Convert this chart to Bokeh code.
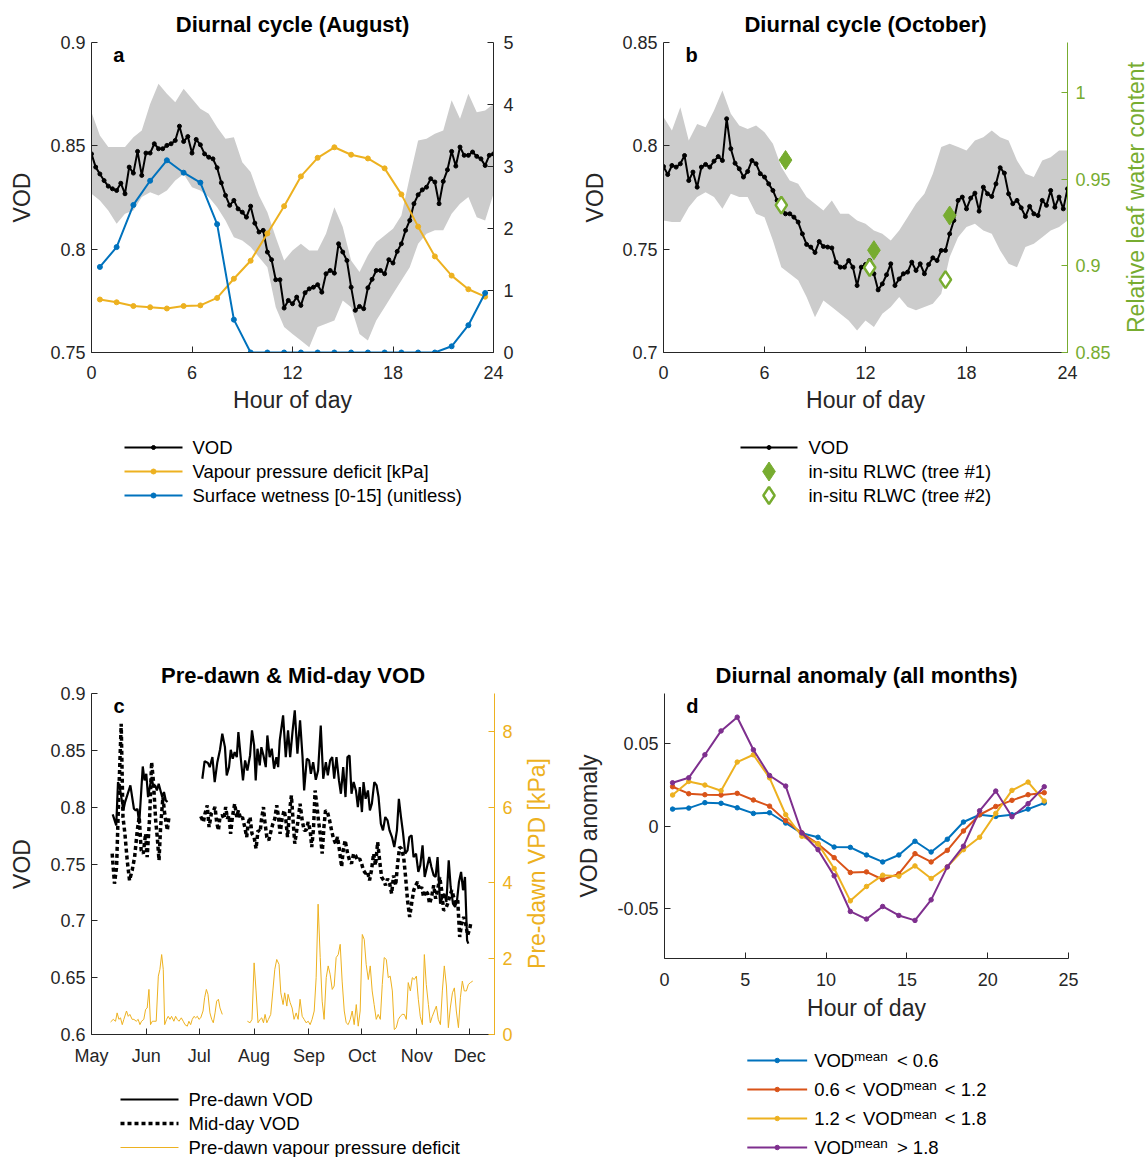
import math
from bokeh.plotting import figure
from bokeh.models import (Range1d, LinearAxis, FixedTicker, Label, CustomJSTickFormatter)
from bokeh.core.properties import value
from bokeh.layouts import row, column
from bokeh.embed import file_html
from bokeh.resources import INLINE

# ------------------------------------------------------------------ data
# Panel a (August diurnal cycle)
hours_q = [i * 0.25 for i in range(97)]
hours_half = [i * 0.5 for i in range(49)]
hours_mid = [i + 0.5 for i in range(24)]

vod_aug = [0.8461, 0.8397, 0.8364, 0.8332, 0.8305, 0.8292, 0.8284, 0.8319, 0.8268, 0.8397,
           0.8368, 0.8473, 0.8357, 0.8465, 0.8465, 0.8510, 0.8486, 0.8486, 0.8502, 0.8510,
           0.8526, 0.8595, 0.8521, 0.8545, 0.8465, 0.8531, 0.8505, 0.8461, 0.8445, 0.8437,
           0.8394, 0.8321, 0.8260, 0.8212, 0.8236, 0.8195, 0.8179, 0.8155, 0.8208, 0.8126,
           0.8083, 0.8091, 0.7986, 0.7949, 0.7852, 0.7852, 0.7715, 0.7752, 0.7736, 0.7768,
           0.7728, 0.7789, 0.7808, 0.7816, 0.7828, 0.7792, 0.7881, 0.7897, 0.7884, 0.8026,
           0.7986, 0.7945, 0.7816, 0.7704, 0.7723, 0.7712, 0.7813, 0.7854, 0.7897, 0.7897,
           0.7881, 0.7949, 0.7933, 0.7989, 0.8026, 0.8091, 0.8139, 0.8220, 0.8263, 0.8287,
           0.8300, 0.8341, 0.8325, 0.8220, 0.8328, 0.8384, 0.8473, 0.8402, 0.8494, 0.8454,
           0.8454, 0.8470, 0.8449, 0.8437, 0.8405, 0.8454, 0.8461]
vod_aug_hi = [0.8663, 0.8550, 0.8494, 0.8494, 0.8494, 0.8542, 0.8574, 0.8703, 0.8800, 0.8752,
              0.8711, 0.8776, 0.8728, 0.8679, 0.8655, 0.8590, 0.8534, 0.8542, 0.8421, 0.8373,
              0.8260, 0.8179, 0.8058, 0.7945, 0.7994, 0.8026, 0.7994, 0.7994, 0.8074, 0.8203,
              0.8107, 0.7945, 0.7889, 0.7970, 0.8034, 0.8066, 0.8099, 0.8163, 0.8349, 0.8526,
              0.8534, 0.8558, 0.8574, 0.8720, 0.8631, 0.8752, 0.8663, 0.8671, 0.8703]
vod_aug_lo = [0.8268, 0.8236, 0.8187, 0.8123, 0.8171, 0.8187, 0.8252, 0.8276, 0.8260, 0.8284,
              0.8332, 0.8364, 0.8300, 0.8284, 0.8252, 0.8203, 0.8139, 0.8058, 0.8042, 0.8010,
              0.7961, 0.7913, 0.7719, 0.7623, 0.7590, 0.7558, 0.7526, 0.7623, 0.7639, 0.7655,
              0.7752, 0.7719, 0.7590, 0.7558, 0.7655, 0.7719, 0.7784, 0.7848, 0.7913, 0.8026,
              0.8074, 0.8091, 0.8091, 0.8171, 0.8220, 0.8252, 0.8155, 0.8139, 0.8268]
vpd_aug = [0.855, 0.81, 0.75, 0.73, 0.71, 0.75, 0.76, 0.88, 1.19, 1.48, 1.92, 2.36,
           2.84, 3.14, 3.31, 3.19, 3.13, 2.97, 2.55, 2.03, 1.55, 1.24, 1.02, 0.90]
wet_aug = [1.38, 1.70, 2.38, 2.77, 3.10, 2.90, 2.74, 2.07, 0.53, 0.0, 0.0, 0.0,
           0.0, 0.0, 0.0, 0.0, 0.0, 0.0, 0.0, 0.0, 0.0, 0.10, 0.44, 0.96]

# Panel b (October diurnal cycle)
vod_oct = [0.7900, 0.7861, 0.7905, 0.7897, 0.7913, 0.7953, 0.7832, 0.7873, 0.7800, 0.7897,
           0.7910, 0.7897, 0.7926, 0.7948, 0.7929, 0.8131, 0.7986, 0.7916, 0.7889, 0.7849,
           0.7876, 0.7929, 0.7913, 0.7865, 0.7849, 0.7816, 0.7784, 0.7736, 0.7703, 0.7671,
           0.7671, 0.7655, 0.7631, 0.7574, 0.7523, 0.7510, 0.7484, 0.7537, 0.7513, 0.7510,
           0.7506, 0.7437, 0.7413, 0.7413, 0.7445, 0.7413, 0.7324, 0.7413, 0.7426, 0.7445,
           0.7381, 0.7303, 0.7332, 0.7376, 0.7429, 0.7324, 0.7356, 0.7381, 0.7389, 0.7437,
           0.7397, 0.7429, 0.7381, 0.7426, 0.7458, 0.7445, 0.7494, 0.7494, 0.7574, 0.7639,
           0.7736, 0.7752, 0.7695, 0.7747, 0.7771, 0.7684, 0.7800, 0.7768, 0.7755, 0.7816,
           0.7894, 0.7868, 0.7768, 0.7720, 0.7736, 0.7700, 0.7658, 0.7707, 0.7671, 0.7663,
           0.7736, 0.7712, 0.7784, 0.7703, 0.7752, 0.7695, 0.7792]
vod_oct_hi = [0.8139, 0.8074, 0.8187, 0.8026, 0.8106, 0.8090, 0.8171, 0.8268, 0.8155, 0.8098,
              0.8082, 0.8098, 0.8066, 0.8010, 0.7897, 0.7832, 0.7816, 0.7752, 0.7720, 0.7687,
              0.7736, 0.7671, 0.7671, 0.7639, 0.7623, 0.7590, 0.7574, 0.7542, 0.7590, 0.7655,
              0.7720, 0.7768, 0.7865, 0.7994, 0.8010, 0.7994, 0.7978, 0.8026, 0.8042, 0.8074,
              0.8042, 0.8026, 0.7929, 0.7865, 0.7849, 0.7929, 0.7945, 0.7978, 0.7978]
vod_oct_lo = [0.7639, 0.7631, 0.7631, 0.7703, 0.7752, 0.7776, 0.7752, 0.7695, 0.7768, 0.7752,
              0.7752, 0.7671, 0.7655, 0.7542, 0.7413, 0.7381, 0.7349, 0.7268, 0.7171, 0.7252,
              0.7220, 0.7187, 0.7155, 0.7107, 0.7155, 0.7123, 0.7187, 0.7220, 0.7268, 0.7220,
              0.7204, 0.7220, 0.7236, 0.7284, 0.7462, 0.7558, 0.7607, 0.7623, 0.7590, 0.7574,
              0.7494, 0.7429, 0.7413, 0.7510, 0.7526, 0.7558, 0.7590, 0.7607, 0.7639]
rlwc1_hours = [7.25, 12.5, 17.0]
rlwc1_vals = [0.961, 0.909, 0.929]
rlwc2_hours = [7.0, 12.25, 16.75]
rlwc2_vals = [0.935, 0.899, 0.892]

# Panel c (days since 1 May)
month_days = [0, 31, 61, 92, 123, 153, 184, 214]
month_names = ["May", "Jun", "Jul", "Aug", "Sep", "Oct", "Nov", "Dec"]

pd1_days = [12, 14, 15, 16, 18, 19, 22, 24, 25, 26, 27, 29, 30, 31, 32, 34, 35, 36, 37, 38, 40, 41, 42, 43]
pd1_vals = [0.7937, 0.7840, 0.8221, 0.8177, 0.7972, 0.8045, 0.8191, 0.7986, 0.7972, 0.7986, 0.7854, 0.8358,
            0.8235, 0.8294, 0.8089, 0.8265, 0.8177, 0.8191, 0.8147, 0.8206, 0.8089, 0.8133, 0.8060, 0.8045]
pd2_days = [62.7, 64.0, 65.9, 66.9, 68.4, 69.7, 71.2, 72.7, 74.0, 75.5,
            76.5, 77.8, 78.8, 79.9, 81.0, 82.2, 83.1, 84.4, 85.7, 86.9,
            88.2, 89.7, 90.8, 92.0, 92.9, 93.9, 95.2, 96.1, 97.3, 98.6,
            99.5, 100.8, 102.0, 103.3, 104.6, 105.6, 106.5, 108.4, 109.9, 111.2,
            112.4, 113.7, 115.0, 116.5, 118.0, 119.4, 120.3, 121.8, 123.1, 124.1,
            125.4, 126.9, 128.2, 129.7, 131.1, 132.6, 133.7, 135.0, 136.2, 137.3,
            138.6, 140.0, 141.1, 142.4, 143.7, 144.8, 146.0, 147.1, 148.3, 149.6,
            150.7, 151.8, 153.0, 153.9, 155.1, 156.4, 157.5, 158.6, 160.0, 161.3,
            162.4, 163.7, 164.9, 166.2, 167.5, 168.6, 170.0, 171.3, 172.8, 173.9,
            175.1, 176.2, 177.5, 178.8, 179.8, 181.1, 182.2, 183.6, 184.9, 186.0,
            187.3, 188.5, 189.8, 191.1, 192.3, 193.6, 194.7, 195.8, 197.2, 198.3,
            199.6, 200.8, 202.1, 203.2, 204.5, 205.7, 206.8, 207.9, 209.1, 210.2,
            211.3, 212.5, 213.2]
pd2_vals = [0.8250, 0.8405, 0.8388, 0.8352, 0.8440, 0.8221, 0.8396, 0.8505, 0.8646, 0.8528,
            0.8279, 0.8352, 0.8505, 0.8426, 0.8484, 0.8440, 0.8660, 0.8440, 0.8235, 0.8411,
            0.8323, 0.8455, 0.8675, 0.8543, 0.8235, 0.8514, 0.8367, 0.8528, 0.8455, 0.8352,
            0.8631, 0.8440, 0.8514, 0.8338, 0.8440, 0.8352, 0.8587, 0.8807, 0.8440, 0.8675,
            0.8440, 0.8660, 0.8851, 0.8470, 0.8763, 0.8440, 0.8147, 0.8426, 0.8411, 0.8294,
            0.8396, 0.8241, 0.8323, 0.8719, 0.8250, 0.8396, 0.8279, 0.8411, 0.8440, 0.8250,
            0.8440, 0.8235, 0.8118, 0.8352, 0.8089, 0.8440, 0.8455, 0.8118, 0.8221, 0.8147,
            0.8001, 0.8177, 0.7957, 0.8221, 0.8074, 0.8147, 0.7972, 0.8030, 0.8221, 0.8191,
            0.8089, 0.7854, 0.7796, 0.7913, 0.7884, 0.7796, 0.7737, 0.7649, 0.7796, 0.8074,
            0.7913, 0.7781, 0.7591, 0.7620, 0.7737, 0.7752, 0.7561, 0.7591, 0.7430, 0.7488,
            0.7664, 0.7386, 0.7474, 0.7561, 0.7474, 0.7400, 0.7386, 0.7561, 0.7151, 0.7195,
            0.7239, 0.7166, 0.7532, 0.7298, 0.7151, 0.7122, 0.7181, 0.7342, 0.7430, 0.7269,
            0.7386, 0.6829, 0.6800]
md1_days = [11.7, 13.0, 14.2, 15.5, 16.8, 17.8, 18.9, 20.2, 21.5, 23.0, 24.4, 25.9, 27.0, 28.1,
            29.3, 30.6, 31.5, 32.9, 34.0, 35.0, 36.3, 37.2, 38.2, 39.1, 40.4, 41.4, 42.9, 43.8]
md1_vals = [0.7591, 0.7327, 0.7474, 0.8147, 0.8733, 0.7913, 0.7767, 0.7532, 0.7356, 0.7444,
            0.7561, 0.7796, 0.7913, 0.7620, 0.7591, 0.7767, 0.7561, 0.7913, 0.8397, 0.8235,
            0.7884, 0.7737, 0.7532, 0.7825, 0.8089, 0.7943, 0.7796, 0.7913]
md2_days = [61.8, 63.3, 64.2, 65.5, 66.5, 67.8, 69.1, 69.9, 70.8, 71.8,
            72.7, 74.0, 75.0, 75.9, 76.9, 77.8, 78.7, 79.7, 81.0, 82.2,
            83.1, 84.4, 85.4, 86.7, 87.8, 88.6, 89.7, 90.8, 92.0, 93.1,
            94.2, 95.4, 96.1, 97.3, 98.0, 99.2, 100.3, 101.4, 102.6, 103.7,
            104.8, 105.8, 106.7, 107.8, 109.0, 109.9, 110.9, 112.2, 113.1, 114.1,
            115.0, 116.1, 117.1, 118.0, 119.2, 120.3, 121.4, 122.6, 123.7, 124.6,
            125.6, 126.5, 127.5, 128.4, 129.4, 130.5, 131.5, 132.4, 133.5, 134.7,
            135.8, 136.9, 138.1, 139.2, 140.3, 141.5, 142.4, 143.5, 144.9, 146.0,
            147.1, 148.3, 149.4, 150.5, 151.7, 152.8, 153.9, 155.1, 156.2, 157.3,
            158.4, 159.6, 160.7, 161.9, 163.0, 164.1, 165.3, 166.4, 167.5, 168.7,
            169.8, 170.9, 172.1, 173.2, 174.3, 175.4, 176.6, 177.7, 178.8, 180.0,
            181.1, 182.3, 183.4, 184.5, 185.6, 186.8, 187.9, 189.0, 190.2, 191.3,
            192.4, 193.6, 194.7, 195.8, 197.0, 198.1, 199.2, 200.4, 201.5, 202.6,
            203.8, 204.9, 206.0, 207.2, 208.3, 209.4, 210.6, 211.7, 212.8, 214.0,
            214.7]
md2_vals = [0.7919, 0.7869, 0.7942, 0.8016, 0.7825, 0.7942, 0.7972, 0.8001, 0.7869, 0.7796,
            0.7913, 0.7928, 0.7898, 0.8001, 0.7898, 0.7928, 0.7766, 0.7913, 0.8030, 0.7913,
            0.7972, 0.7898, 0.7913, 0.7825, 0.7737, 0.7854, 0.7913, 0.7766, 0.7737, 0.7635,
            0.7796, 0.7781, 0.7884, 0.8001, 0.7884, 0.7737, 0.7708, 0.7781, 0.7854, 0.7898,
            0.8016, 0.7913, 0.7766, 0.7898, 0.7972, 0.7898, 0.7737, 0.7986, 0.8103, 0.7869,
            0.7679, 0.7796, 0.7913, 0.8030, 0.7884, 0.7796, 0.7796, 0.7869, 0.7796, 0.7649,
            0.7810, 0.8147, 0.8016, 0.7884, 0.7766, 0.7591, 0.7825, 0.7972, 0.7957, 0.7884,
            0.7796, 0.7723, 0.7679, 0.7737, 0.7620, 0.7474, 0.7620, 0.7708, 0.7591, 0.7532,
            0.7503, 0.7591, 0.7576, 0.7532, 0.7547, 0.7503, 0.7444, 0.7415, 0.7430, 0.7356,
            0.7444, 0.7591, 0.7488, 0.7693, 0.7532, 0.7386, 0.7356, 0.7312, 0.7371, 0.7327,
            0.7239, 0.7400, 0.7312, 0.7503, 0.7649, 0.7635, 0.7561, 0.7386, 0.7181, 0.7034,
            0.7151, 0.7269, 0.7312, 0.7342, 0.7269, 0.7298, 0.7210, 0.7269, 0.7239, 0.7151,
            0.7210, 0.7312, 0.7195, 0.7269, 0.7386, 0.7269, 0.7093, 0.7107, 0.7151, 0.7210,
            0.7269, 0.7210, 0.7151, 0.7181, 0.6858, 0.6975, 0.7034, 0.6975, 0.6873, 0.6931,
            0.6990]
vpd1_days = [10.8, 12.3, 13.6, 14.5, 15.5, 16.4, 17.4, 18.3, 19.8, 20.8,
             21.7, 23.0, 24.0, 25.3, 26.4, 27.4, 28.3, 29.6, 30.6, 31.5,
             32.5, 33.4, 34.4, 35.3, 36.6, 37.8, 38.7, 39.7, 40.6, 41.4,
             42.5, 43.4, 44.4, 45.3, 46.6, 47.6, 48.5, 49.5, 50.8, 51.9,
             52.9, 54.2, 55.1, 56.1, 57.0, 58.0, 58.9, 59.9, 60.8, 61.8,
             63.1, 64.0, 65.0, 65.9, 67.0, 68.0, 68.9, 69.9, 70.8, 71.8,
             72.7, 74.0]
vpd1_vals = [0.33, 0.40, 0.35, 0.57, 0.40, 0.44, 0.26, 0.40, 0.62, 0.48,
             0.53, 0.40, 0.40, 0.35, 0.40, 0.26, 0.35, 0.40, 0.66, 0.70,
             1.19, 0.26, 0.35, 0.35, 0.35, 1.54, 1.72, 2.11, 1.72, 0.26,
             0.40, 0.48, 0.40, 0.48, 0.35, 0.48, 0.40, 0.35, 0.44, 0.35,
             0.26, 0.22, 0.35, 0.26, 0.40, 0.48, 0.44, 0.48, 0.40, 0.44,
             0.62, 0.97, 1.19, 1.06, 0.57, 0.40, 0.31, 0.57, 0.88, 0.93,
             0.70, 0.53]
vpd2_days = [88.2, 89.7, 90.8, 92.0, 93.1, 94.2, 95.4, 96.3, 97.3, 98.2,
             99.2, 100.1, 101.4, 102.6, 103.7, 104.8, 106.1, 107.1, 108.4, 109.3,
             110.5, 111.2, 112.4, 113.5, 114.6, 115.8, 116.9, 118.0, 119.2, 120.3,
             121.4, 122.6, 123.7, 124.8, 126.0, 127.1, 128.2, 129.4, 130.5, 131.6,
             132.8, 133.9, 135.0, 136.2, 137.3, 138.4, 139.6, 140.7, 141.8, 143.0,
             144.1, 145.2, 146.4, 147.5, 148.6, 149.8, 150.9, 152.0, 153.2, 154.3,
             155.4, 156.6, 157.7, 158.8, 159.9, 161.1, 162.2, 163.4, 164.5, 165.6,
             166.8, 167.9, 169.0, 170.2, 171.3, 172.4, 173.6, 174.7, 175.8, 177.0,
             178.1, 179.2, 180.4, 181.5, 182.6, 183.8, 184.9, 186.0, 187.2, 188.3,
             189.4, 190.6, 191.7, 192.8, 194.0, 195.1, 196.2, 197.4, 198.5, 199.6,
             200.8, 201.9, 203.0, 204.2, 205.3, 206.4, 207.6, 208.7, 209.8, 210.9,
             212.1, 213.2, 214.4, 215.7]
vpd2_vals = [0.35, 0.31, 0.40, 1.89, 1.15, 0.31, 0.40, 0.44, 0.31, 0.53,
             0.31, 0.40, 0.53, 1.15, 1.72, 1.98, 1.85, 1.10, 0.79, 1.10,
             0.75, 1.06, 0.84, 0.70, 0.40, 0.57, 0.40, 0.93, 0.48, 0.40,
             0.31, 0.35, 0.26, 0.40, 0.62, 1.50, 3.44, 2.03, 0.88, 0.40,
             1.50, 1.81, 1.59, 1.19, 1.28, 2.03, 2.11, 2.38, 1.41, 0.62,
             0.31, 0.26, 0.40, 0.62, 0.26, 0.79, 0.22, 0.62, 2.64, 2.51,
             1.85, 1.45, 1.81, 1.15, 0.79, 0.40, 0.53, 0.40, 1.32, 2.03,
             1.98, 1.50, 1.54, 1.15, 0.13, 0.18, 0.40, 0.48, 0.53, 0.53,
             0.40, 1.37, 1.15, 1.50, 1.45, 1.54, 0.93, 0.48, 0.26, 2.11,
             1.32, 0.79, 0.31, 0.48, 0.62, 0.75, 0.40, 0.26, 1.15, 1.81,
             1.28, 0.18, 0.70, 1.10, 1.23, 0.62, 0.18, 0.97, 1.41, 1.15,
             1.15, 1.32, 1.37, 1.41]

# Panel d (diurnal anomaly)
anom_lt06 = [0.0102, 0.0108, 0.0141, 0.0137, 0.0110, 0.0076, 0.0080, 0.0018, -0.0044, -0.0068,
             -0.0127, -0.0129, -0.0175, -0.0217, -0.0175, -0.0092, -0.0157, -0.0080, 0.0024, 0.0068,
             0.0058, 0.0068, 0.0102, 0.0139]
anom_06_12 = [0.0237, 0.0195, 0.0189, 0.0187, 0.0197, 0.0157, 0.0120, 0.0032, -0.0042, -0.0108,
              -0.0191, -0.0281, -0.0277, -0.0323, -0.0289, -0.0167, -0.0217, -0.0147, -0.0030, 0.0068,
              0.0118, 0.0155, 0.0189, 0.0201]
anom_12_18 = [0.0187, 0.0269, 0.0247, 0.0213, 0.0386, 0.0430, 0.0291, 0.0068, -0.0062, -0.0108,
              -0.0257, -0.0452, -0.0365, -0.0297, -0.0303, -0.0241, -0.0317, -0.0247, -0.0143, -0.0068,
              0.0076, 0.0215, 0.0265, 0.0151]
anom_gt18 = [0.0261, 0.0291, 0.0430, 0.0574, 0.0657, 0.0460, 0.0305, 0.0241, -0.0042, -0.0143,
             -0.0301, -0.0516, -0.0562, -0.0486, -0.0540, -0.0570, -0.0446, -0.0247, -0.0122, 0.0092,
             0.0211, 0.0056, 0.0135, 0.0237]

# ------------------------------------------------------------------ style
FONT = "Liberation Sans"
TXT = "#262626"
BLUE, ORANGE, YELLOW, PURPLE, GREEN, GRAY = "#0072BD", "#D95319", "#EDB120", "#7E2F8E", "#77AC30", "#CCCCCC"
TICK_FS, LABEL_FS, TITLE_FS, LEG_FS = "18px", "23px", "22px", "18.5px"

num_fmt = CustomJSTickFormatter(code="return String(Math.round(tick * 1000) / 1000);")


def style_axis(ax, color=TXT, ticks=None, label_standoff=6):
    ax.axis_line_color = color
    ax.major_tick_line_color = color
    ax.major_label_text_color = color
    ax.axis_label_text_color = color
    ax.major_tick_in = 6
    ax.major_tick_out = 0
    ax.minor_tick_line_color = None
    ax.major_label_text_font = FONT
    ax.major_label_text_font_size = TICK_FS
    ax.axis_label_text_font = FONT
    ax.axis_label_text_font_size = LABEL_FS
    ax.axis_label_text_font_style = "normal"
    ax.major_label_standoff = label_standoff
    if ticks is not None:
        ax.ticker = FixedTicker(ticks=ticks)
        ax.formatter = num_fmt


def base(bl, bt, fw, fh, br, bb, xr, yr, title):
    p = figure(frame_width=fw, frame_height=fh, min_border_left=bl, min_border_top=bt,
               min_border_right=br, min_border_bottom=bb, x_range=Range1d(*xr),
               y_range=Range1d(*yr), title=title, output_backend="svg", toolbar_location=None)
    p.outline_line_color = None
    p.xgrid.visible = False
    p.ygrid.visible = False
    t = p.title
    t.align = "center"
    t.text_font = FONT
    t.text_font_size = TITLE_FS
    t.text_font_style = "bold"
    t.text_color = "black"
    t.standoff = 11
    return p


def page_fig(w, h, x0, y0, bl=0, br=0, bt=0, bb=0):
    # a blank strip whose data units equal page pixels (y grows downward)
    f = figure(width=w, height=h, x_range=Range1d(x0 + bl, x0 + w - br),
               y_range=Range1d(y0 + h - bb, y0 + bt), x_axis_type=None, y_axis_type=None,
               min_border_left=bl, min_border_right=br, min_border_top=bt, min_border_bottom=bb,
               output_backend="svg", toolbar_location=None)
    f.outline_line_color = None
    return f


def leg_text(f, xs, ys, texts, size=LEG_FS, baseline="middle"):
    f.text(x=xs, y=ys, text=texts, text_font=value(FONT), text_font_size=value(size),
           text_color="black", text_align="left", text_baseline=baseline)


def side_label(f, x, y, txt, color):
    f.text(x=[x], y=[y], text=[txt], angle=math.pi / 2, text_font=value(FONT),
           text_font_size=value(LABEL_FS), text_color=color, text_align="center",
           text_baseline="middle")


def panel_letter(p, x, y, txt):
    p.add_layout(Label(x=x, y=y, text=txt, text_font=FONT, text_font_size="20px",
                       text_font_style="bold", text_color="black", text_align="left",
                       text_baseline="top", y_offset=-1))


# ------------------------------------------------------------------ panel a
pa = base(91, 42, 402, 310, 80, 70, (0, 24), (0.75, 0.9), "Diurnal cycle (August)")
style_axis(pa.xaxis[0], ticks=[0, 6, 12, 18, 24], label_standoff=13)
style_axis(pa.yaxis[0], ticks=[0.75, 0.8, 0.85, 0.9])
pa.xaxis.axis_label = "Hour of day"
pa.xaxis.axis_label_standoff = 5
pa.yaxis.axis_label = "VOD"
pa.yaxis.axis_label_standoff = 12
pa.extra_y_ranges = {"r": Range1d(0, 5)}
ax_ra = LinearAxis(y_range_name="r")
style_axis(ax_ra, ticks=[0, 1, 2, 3, 4, 5], label_standoff=10)
pa.add_layout(ax_ra, "right")

pa.varea(x=hours_half, y1=vod_aug_lo, y2=vod_aug_hi, fill_color=GRAY)
pa.line(hours_q, vod_aug, line_color="black", line_width=2)
pa.scatter(hours_q, vod_aug, size=4, color="black")
pa.line(hours_mid, vpd_aug, y_range_name="r", line_color=YELLOW, line_width=2)
pa.scatter(hours_mid, vpd_aug, y_range_name="r", size=5, color=YELLOW)
pa.line(hours_mid, wet_aug, y_range_name="r", line_color=BLUE, line_width=2)
pa.scatter(hours_mid, wet_aug, y_range_name="r", size=5, color=BLUE)
panel_letter(pa, 1.3, 0.9, "a")

la = page_fig(573, 178, 0, 422, bl=91, br=80)
rows_a = [447, 471, 495]
cols_a = ["black", YELLOW, BLUE]
la.segment(x0=[124] * 3, y0=rows_a, x1=[182] * 3, y1=rows_a, line_color=cols_a, line_width=2)
la.scatter(x=[153] * 3, y=rows_a, size=[4, 5, 5], color=cols_a)
leg_text(la, [192] * 3, rows_a, ["VOD", "Vapour pressure deficit [kPa]",
                                 "Surface wetness [0-15] (unitless)"])

# ------------------------------------------------------------------ panel b
pb = base(90, 42, 404, 310, 50, 70, (0, 24), (0.7, 0.85), "Diurnal cycle (October)")
style_axis(pb.xaxis[0], ticks=[0, 6, 12, 18, 24], label_standoff=13)
style_axis(pb.yaxis[0], ticks=[0.7, 0.75, 0.8, 0.85])
pb.xaxis.axis_label = "Hour of day"
pb.xaxis.axis_label_standoff = 5
pb.yaxis.axis_label = "VOD"
pb.yaxis.axis_label_standoff = 11
pb.extra_y_ranges = {"r": Range1d(0.85, 1.0288)}
ax_rb = LinearAxis(y_range_name="r")
style_axis(ax_rb, color=GREEN, ticks=[0.85, 0.9, 0.95, 1.0], label_standoff=8)
pb.add_layout(ax_rb, "right")

pb.varea(x=hours_half, y1=vod_oct_lo, y2=vod_oct_hi, fill_color=GRAY)
pb.line(hours_q, vod_oct, line_color="black", line_width=2)
pb.scatter(hours_q, vod_oct, size=4, color="black")
pb.scatter(rlwc1_hours, rlwc1_vals, y_range_name="r", marker="diamond", size=19,
           fill_color=GREEN, line_color=GREEN)
pb.scatter(rlwc2_hours, rlwc2_vals, y_range_name="r", marker="diamond", size=17,
           fill_color="white", line_color=GREEN, line_width=2.5)
panel_letter(pb, 1.3, 0.85, "b")

sb = page_fig(30, 422, 1117, 0, bt=42, bb=70)
side_label(sb, 1135, 197, "Relative leaf water content", GREEN)

lb = page_fig(574, 178, 573, 422, bl=90, br=80)
lb.segment(x0=[740], y0=[447], x1=[797], y1=[447], line_color="black", line_width=2)
lb.scatter(x=[768.5], y=[447], size=4, color="black")
lb.scatter(x=[768.5], y=[471], marker="diamond", size=19, fill_color=GREEN, line_color=GREEN)
lb.scatter(x=[768.5], y=[495], marker="diamond", size=17, fill_color="white",
           line_color=GREEN, line_width=2.5)
leg_text(lb, [808] * 3, [447, 471, 495], ["VOD", "in-situ RLWC (tree #1)", "in-situ RLWC (tree #2)"])

# ------------------------------------------------------------------ panel c
pc = base(91, 93, 403, 341, 24, 45, (0, 228), (0.6, 0.9), "Pre-dawn & Mid-day VOD")
style_axis(pc.xaxis[0], label_standoff=11)
pc.xaxis.ticker = FixedTicker(ticks=month_days)
pc.xaxis.formatter = CustomJSTickFormatter(
    args=dict(days=month_days, names=month_names),
    code="const i = days.indexOf(tick); return i >= 0 ? names[i] : '';")
style_axis(pc.yaxis[0], ticks=[0.6, 0.65, 0.7, 0.75, 0.8, 0.85, 0.9])
pc.yaxis.axis_label = "VOD"
pc.yaxis.axis_label_standoff = 12
pc.extra_y_ranges = {"r": Range1d(0, 9)}
ax_rc = LinearAxis(y_range_name="r")
style_axis(ax_rc, color=YELLOW, ticks=[0, 2, 4, 6, 8], label_standoff=8)
pc.add_layout(ax_rc, "right")

pc.line(vpd1_days, vpd1_vals, y_range_name="r", line_color=YELLOW, line_width=1)
pc.line(vpd2_days, vpd2_vals, y_range_name="r", line_color=YELLOW, line_width=1)
pc.line(pd1_days, pd1_vals, line_color="black", line_width=2.2)
pc.line(pd2_days, pd2_vals, line_color="black", line_width=2.2)
pc.line(md1_days, md1_vals, line_color="black", line_width=3.5, line_dash="4 3")
pc.line(md2_days, md2_vals, line_color="black", line_width=3.5, line_dash="4 3")
panel_letter(pc, 12.5, 0.9, "c")

sc = page_fig(55, 479, 518, 600, bt=93, bb=45)
side_label(sc, 536, 863, "Pre-dawn VPD [kPa]", YELLOW)

lc = page_fig(573, 78, 0, 1079, bl=91, br=79)
lc.segment(x0=[120], y0=[1099], x1=[178], y1=[1099], line_color="black", line_width=2.2)
lc.segment(x0=[120], y0=[1123], x1=[178], y1=[1123], line_color="black", line_width=3.5,
           line_dash="4 3")
lc.segment(x0=[120], y0=[1147], x1=[178], y1=[1147], line_color=YELLOW, line_width=1)
leg_text(lc, [188] * 3, [1099, 1123, 1147],
         ["Pre-dawn VOD", "Mid-day VOD", "Pre-dawn vapour pressure deficit"])

# ------------------------------------------------------------------ panel d
pdd = base(90, 93, 404, 265, 80, 75, (0, 25), (-0.08, 0.08), "Diurnal anomaly (all months)")
style_axis(pdd.xaxis[0], ticks=[0, 5, 10, 15, 20, 25], label_standoff=14)
style_axis(pdd.yaxis[0], ticks=[-0.05, 0, 0.05])
pdd.xaxis.axis_label = "Hour of day"
pdd.xaxis.axis_label_standoff = 6
pdd.yaxis.axis_label = "VOD anomaly"
pdd.yaxis.axis_label_standoff = 12

series_d = [anom_lt06, anom_06_12, anom_12_18, anom_gt18]
cols_d = [BLUE, ORANGE, YELLOW, PURPLE]
for vals, col in zip(series_d, cols_d):
    pdd.line(hours_mid, vals, line_color=col, line_width=2)
    pdd.scatter(hours_mid, vals, size=4.5, color=col)
panel_letter(pdd, 1.35, 0.08, "d")

ld = page_fig(574, 124, 573, 1033, bl=90, br=80)
rows_d = [1060, 1089, 1118, 1147]
ld.segment(x0=[746] * 4, y0=rows_d, x1=[806] * 4, y1=rows_d, line_color=cols_d, line_width=2)
ld.scatter(x=[776] * 4, y=rows_d, size=4.5, color=cols_d)
# main text pieces of the legend labels, and the superscript "mean"
leg_text(ld, [813, 896, 813, 862, 944, 813, 862, 944, 813, 896],
         [rows_d[0], rows_d[0], rows_d[1], rows_d[1], rows_d[1],
          rows_d[2], rows_d[2], rows_d[2], rows_d[3], rows_d[3]],
         ["VOD", "< 0.6", "0.6 <", "VOD", "< 1.2", "1.2 <", "VOD", "< 1.8", "VOD", "> 1.8"])
leg_text(ld, [853, 902, 902, 853], [r - 4 for r in rows_d], ["mean"] * 4,
         size="13.5px", baseline="alphabetic")

top = row(column(pa, la), column(row(pb, sb), lb))
bottom = row(column(row(pc, sc), lc), column(pdd, ld))
layout = column(top, bottom)
with open("out.html", "w") as f:
    f.write(file_html(layout, INLINE, title="VOD diurnal cycles"))
